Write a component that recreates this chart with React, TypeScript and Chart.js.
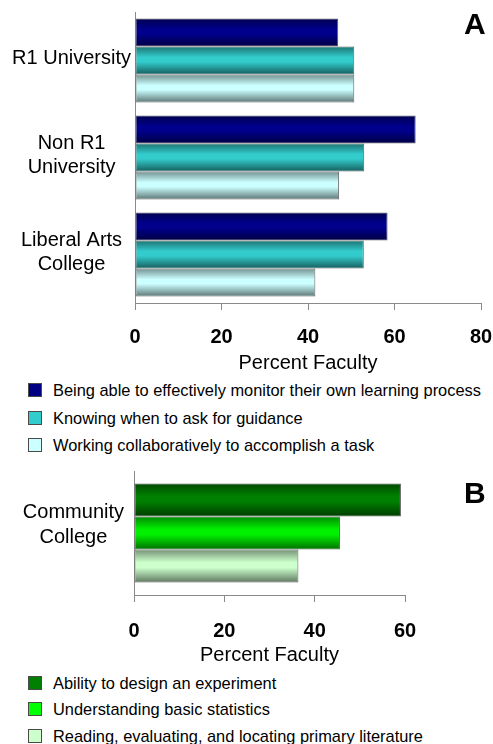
import React, { useEffect, useRef } from 'react';
import { Chart, registerables } from 'chart.js';

Chart.register(...registerables);

const FONT = '"Liberation Sans", Arial, Helvetica, sans-serif';

// ---- Panel A data ----
const categoriesA: (string | string[])[] = ['R1 University', ['Non R1', 'University'], ['Liberal Arts', 'College']];
const seriesNamesA = [
  'Being able to effectively monitor their own learning process',
  'Knowing when to ask for guidance',
  'Working collaboratively to accomplish a task',
];
const monitorValues = [47.0, 64.9, 58.4];
const guidanceValues = [50.7, 53.0, 52.9];
const collaborateValues = [50.7, 47.2, 41.7];
const colorsA = ['#00008c', '#33cccc', '#ccffff'];
const ticksA = [0, 20, 40, 60, 80];

// ---- Panel B data ----
const categoriesB: (string | string[])[] = [['Community', 'College']];
const seriesNamesB = [
  'Ability to design an experiment',
  'Understanding basic statistics',
  'Reading, evaluating, and locating primary literature',
];
const experimentValues = [59.1];
const statisticsValues = [45.6];
const literatureValues = [36.4];
const colorsB = ['#008000', '#00f000', '#ccffcc'];
const ticksB = [0, 20, 40, 60];

const AXIS_TITLE = 'Percent Faculty';

const shadePlugin = {
  id: 'shade3d',
  afterDatasetsDraw(chart: any) {
    const ctx = chart.ctx;
    chart.data.datasets.forEach((_ds: any, i: number) => {
      const meta = chart.getDatasetMeta(i);
      meta.data.forEach((bar: any) => {
        const p = bar.getProps(['x', 'y', 'base', 'height'], true);
        const bw = 1;
        const left = Math.min(p.x, p.base) + bw;
        const right = Math.max(p.x, p.base) - bw;
        const top = p.y - p.height / 2 + bw;
        const bottom = p.y + p.height / 2 - bw;
        if (right <= left || bottom <= top) return;
        const g = ctx.createLinearGradient(0, top, 0, bottom);
        g.addColorStop(0, 'rgba(0,0,0,0.4)');
        g.addColorStop(0.38, 'rgba(0,0,0,0)');
        g.addColorStop(0.55, 'rgba(0,0,0,0)');
        g.addColorStop(1, 'rgba(0,0,0,0.5)');
        ctx.save();
        ctx.fillStyle = g;
        ctx.fillRect(left, top, right - left, bottom - top);
        ctx.restore();
      });
    });
  },
};

type PanelProps = {
  labels: (string | string[])[];
  names: string[];
  values: number[][];
  colors: string[];
  ticks: number[];
  top: number;
  height: number;
  padTop: number;
  padRight: number;
  yWidth: number;
  xHeight: number;
  catPct: number;
  tickPad: number;
  yPad: number;
  labelOffset: number;
};

function zeroPad(s: any) {
  s.paddingLeft = 0;
  s.paddingRight = 0;
  s.paddingTop = 0;
  s.paddingBottom = 0;
}

function BarPanel(props: PanelProps) {
  const ref = useRef<HTMLCanvasElement | null>(null);
  useEffect(() => {
    if (!ref.current) return;
    const tickVals = props.ticks;
    const chart = new Chart(ref.current, {
      type: 'bar',
      data: {
        labels: props.labels as any,
        datasets: props.values.map((v, i) => ({
          label: props.names[i],
          data: v,
          backgroundColor: props.colors[i],
          borderColor: '#5e5e5e',
          borderWidth: 1,
          borderSkipped: false,
          categoryPercentage: props.catPct,
          barPercentage: 1,
        })),
      },
      options: {
        indexAxis: 'y',
        responsive: false,
        animation: false,
        events: [],
        layout: { padding: { top: props.padTop, right: props.padRight, left: 0, bottom: 0 } },
        plugins: { legend: { display: false }, tooltip: { enabled: false } },
        scales: {
          x: {
            type: 'linear',
            min: tickVals[0],
            max: tickVals[tickVals.length - 1],
            afterBuildTicks: (s: any) => {
              s.ticks = tickVals.map((v) => ({ value: v }));
            },
            afterFit: (s: any) => {
              s.height = props.xHeight;
              zeroPad(s);
            },
            ticks: {
              color: '#000',
              padding: props.tickPad,
              maxRotation: 0,
              font: { family: FONT, size: 20, weight: 'bold', lineHeight: 1.2 },
            },
            grid: { drawOnChartArea: false, drawTicks: true, tickLength: 7, color: '#8a8a8a', lineWidth: 1 },
            border: { display: true, color: '#8a8a8a', width: 1 },
            title: {
              display: true,
              text: AXIS_TITLE,
              color: '#000',
              padding: 0,
              font: { family: FONT, size: 20, lineHeight: 1.2 },
            },
          },
          y: {
            afterFit: (s: any) => {
              s.width = props.yWidth;
              zeroPad(s);
            },
            ticks: {
              color: '#000',
              crossAlign: 'center',
              padding: props.yPad,
              labelOffset: props.labelOffset,
              font: { family: FONT, size: 20, lineHeight: 1.22 },
            },
            grid: { display: false, drawTicks: false },
            border: { display: true, color: '#8a8a8a', width: 1 },
          },
        },
      } as any,
      plugins: [shadePlugin],
    });
    return () => chart.destroy();
  }, []);
  return (
    <canvas
      ref={ref}
      width={493}
      height={props.height}
      style={{ position: 'absolute', left: 0, top: props.top, width: 493, height: props.height }}
    />
  );
}

function Legend({ names, colors, centers }: { names: string[]; colors: string[]; centers: number[] }) {
  return (
    <>
      {names.map((n, i) => (
        <div
          key={n}
          style={{
            position: 'absolute',
            left: 28,
            top: centers[i] - 10,
            height: 20,
            display: 'flex',
            alignItems: 'center',
            whiteSpace: 'nowrap',
          }}
        >
          <span
            style={{
              display: 'inline-block',
              width: 14,
              height: 14,
              boxSizing: 'border-box',
              border: '1px solid #4a4a4a',
              background: colors[i],
            }}
          />
          <span style={{ marginLeft: 11, fontFamily: FONT, fontSize: 16.4, lineHeight: '20px', color: '#000' }}>{n}</span>
        </div>
      ))}
    </>
  );
}

export default function App() {
  return (
    <div style={{ position: 'absolute', left: 0, top: 0, width: 493, height: 744, overflow: 'hidden', background: '#fff' }}>
      <BarPanel
        labels={categoriesA}
        names={seriesNamesA}
        values={[monitorValues, guidanceValues, collaborateValues]}
        colors={colorsA}
        ticks={ticksA}
        top={0}
        height={375}
        padTop={12}
        padRight={12}
        yWidth={135}
        xHeight={72}
        catPct={0.866}
        tickPad={15}
        yPad={4}
        labelOffset={-2}
      />
      <div style={{ position: 'absolute', left: 464, top: 9, fontFamily: FONT, fontWeight: 'bold', fontSize: 30, lineHeight: '30px' }}>A</div>
      <Legend names={seriesNamesA} colors={['#000080', '#33cccc', '#ccffff']} centers={[390, 417.5, 445]} />
      <BarPanel
        labels={categoriesB}
        names={seriesNamesB}
        values={[experimentValues, statisticsValues, literatureValues]}
        colors={colorsB}
        ticks={ticksB}
        top={460}
        height={207}
        padTop={11}
        padRight={88}
        yWidth={134}
        xHeight={72}
        catPct={0.8}
        tickPad={17}
        yPad={10}
        labelOffset={-8}
      />
      <div style={{ position: 'absolute', left: 464, top: 478, fontFamily: FONT, fontWeight: 'bold', fontSize: 30, lineHeight: '30px' }}>B</div>
      <Legend names={seriesNamesB} colors={['#008000', '#00ff00', '#ccffcc']} centers={[682.7, 709.3, 736]} />
    </div>
  );
}
